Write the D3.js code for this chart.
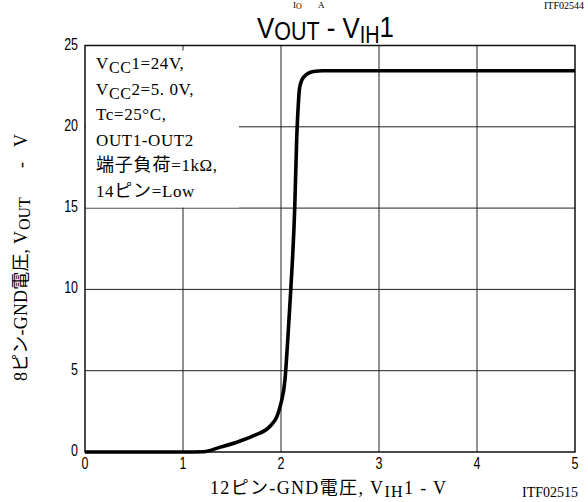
<!DOCTYPE html>
<html><head><meta charset="utf-8">
<script src="https://cdn.jsdelivr.net/npm/d3@7"></script>
<style>
html,body{margin:0;padding:0;background:#fff;}
svg{display:block;}
.tick-lbl{font-family:"Liberation Sans","Arial",sans-serif;font-size:16px;fill:#000;}
.serif{font-family:"Liberation Serif","Noto Sans CJK JP",serif;fill:#000;}
</style></head>
<body>
<svg id="c" width="588" height="502"></svg>
<script>
// ---- data ----
const vin  = [0, 1.0, 1.21, 1.38, 1.55, 1.72, 1.89, 1.96, 2.0, 2.04, 2.07, 2.10, 2.14, 2.16, 2.175, 2.19, 2.23, 2.33, 2.43, 2.6, 5.0];
const vout = [0, 0, 0.02, 0.3, 0.6, 1.0, 1.6, 2.2, 3.0, 4.4, 7.0, 10, 15, 19.2, 21.2, 22.4, 23.05, 23.4, 23.45, 23.45, 23.45];
const xTicks = [0, 1, 2, 3, 4, 5];
const yTicks = [0, 5, 10, 15, 20, 25];
const notes = [
  [["V",""],["CC","sub"],["1=24V,","up"]],
  [["V",""],["CC","sub"],["2=5. 0V,","up"]],
  [["Tc=25°C,",""]],
  [["OUT1-OUT2",""]],
  [["端子負荷","cjk"],["=1kΩ,",""]],
  [["14",""],["ピン","cjk"],["=Low",""]]
];

const svg = d3.select("#c");
const L = 85, R = 575, T = 45.5, B = 452;
const x = d3.scaleLinear().domain([0, 5]).range([L, R]);
const y = d3.scaleLinear().domain([0, 25]).range([B, T]);

// grid
const g = svg.append("g");
g.selectAll(".vg").data(xTicks.slice(1, -1)).join("line")
  .attr("x1", d => x(d)).attr("x2", d => x(d)).attr("y1", T).attr("y2", B)
  .attr("stroke", "#222").attr("stroke-width", 1);
g.selectAll(".hg").data(yTicks.slice(1, -1)).join("line")
  .attr("x1", L).attr("x2", R).attr("y1", d => y(d)).attr("y2", d => y(d))
  .attr("stroke", "#222").attr("stroke-width", 1);

// note box background
svg.append("rect").attr("x", L + 1).attr("y", T + 5).attr("width", 153).attr("height", 157).attr("fill", "#fff");

// frame
svg.append("rect").attr("x", L).attr("y", T).attr("width", R - L).attr("height", B - T)
  .attr("fill", "none").attr("stroke", "#111").attr("stroke-width", 1.5);

// curve
const line = d3.line().x(d => x(d[0])).y(d => y(d[1])).curve(d3.curveMonotoneX);
svg.append("path").datum(vin.map((v, i) => [v, vout[i]]))
  .attr("d", line).attr("fill", "none").attr("stroke", "#000").attr("stroke-width", 3.6)
  .attr("stroke-linejoin", "round");

// tick labels (condensed)
svg.selectAll(".xl").data(xTicks).join("text").attr("class", "tick-lbl")
  .attr("transform", d => `translate(${x(d)},469) scale(0.78,1)`).attr("text-anchor", "middle").text(d => d);
svg.selectAll(".yl").data(yTicks).join("text").attr("class", "tick-lbl")
  .attr("transform", d => `translate(78,${y(d) + 4}) scale(0.78,1)`).attr("text-anchor", "end").text(d => d);

// notes
notes.forEach((ln, i) => {
  const t = svg.append("text").attr("class", "serif").attr("x", 96).attr("y", 69 + i * 25.5)
    .style("font-size", "17px").style("letter-spacing", "0.6px");
  ln.forEach(([s, k]) => {
    const ts = t.append("tspan").text(s);
    if (k === "sub") ts.attr("dy", 4).style("font-size", "16px");
    else if (k === "up") ts.attr("dy", -4);
    else if (k === "cjk") ts.style("font-size", "18px").style("letter-spacing", "0.8px");
  });
});

// title (condensed)
const title = svg.append("text").attr("transform", "translate(257,38) scale(0.86,1)")
  .style("font-family", '"Liberation Sans","Arial",sans-serif').attr("fill", "#000");
title.append("tspan").text("V").style("font-size", "30px");
title.append("tspan").text("OUT").attr("dy", 2).style("font-size", "25px");
title.append("tspan").text(" - ").attr("dy", -2).style("font-size", "30px");
title.append("tspan").text("V").style("font-size", "30px");
title.append("tspan").text("IH").attr("dy", 5).style("font-size", "23px");
title.append("tspan").text("1").attr("dy", -6).style("font-size", "30px");

// texts at top (remnants of previous chart)
const top1 = svg.append("text").attr("class", "serif").attr("x", 293).attr("y", 8).style("font-size", "9px");
top1.append("tspan").text("I");
top1.append("tspan").text("O").attr("dy", 1).style("font-size", "8px");
svg.append("text").attr("class", "serif").attr("x", 318).attr("y", 8).style("font-size", "9px").text("A");
svg.append("text").attr("class", "serif").attr("x", 584).attr("y", 9).attr("text-anchor", "end").style("font-size", "10px").text("ITF02544");

// x label
const xl = svg.append("text").attr("class", "serif").attr("x", 210).attr("y", 494)
  .style("font-size", "18px").attr("textLength", 236).attr("lengthAdjust", "spacing");
xl.append("tspan").text("12ピン-GND電圧, V");
xl.append("tspan").text("IH").attr("dy", 3).style("font-size", "16px");
xl.append("tspan").text("1 - V").attr("dy", -3);
svg.append("text").attr("class", "serif").attr("x", 578).attr("y", 497).attr("text-anchor", "end")
  .style("font-size", "14px").text("ITF02515");

// y label (rotated)
const yl = svg.append("text").attr("class", "serif").attr("transform", "translate(27,381) rotate(-90)")
  .style("font-size", "18px");
yl.append("tspan").attr("x", 0).text("8ピン-GND電圧, V").attr("textLength", 150).attr("lengthAdjust", "spacing");
yl.append("tspan").attr("x", 151).attr("dy", 3).text("OUT").style("font-size", "16px");
yl.append("tspan").attr("x", 213).attr("dy", -3).text("-");
yl.append("tspan").attr("x", 234).text("V");
</script>
</body></html>
